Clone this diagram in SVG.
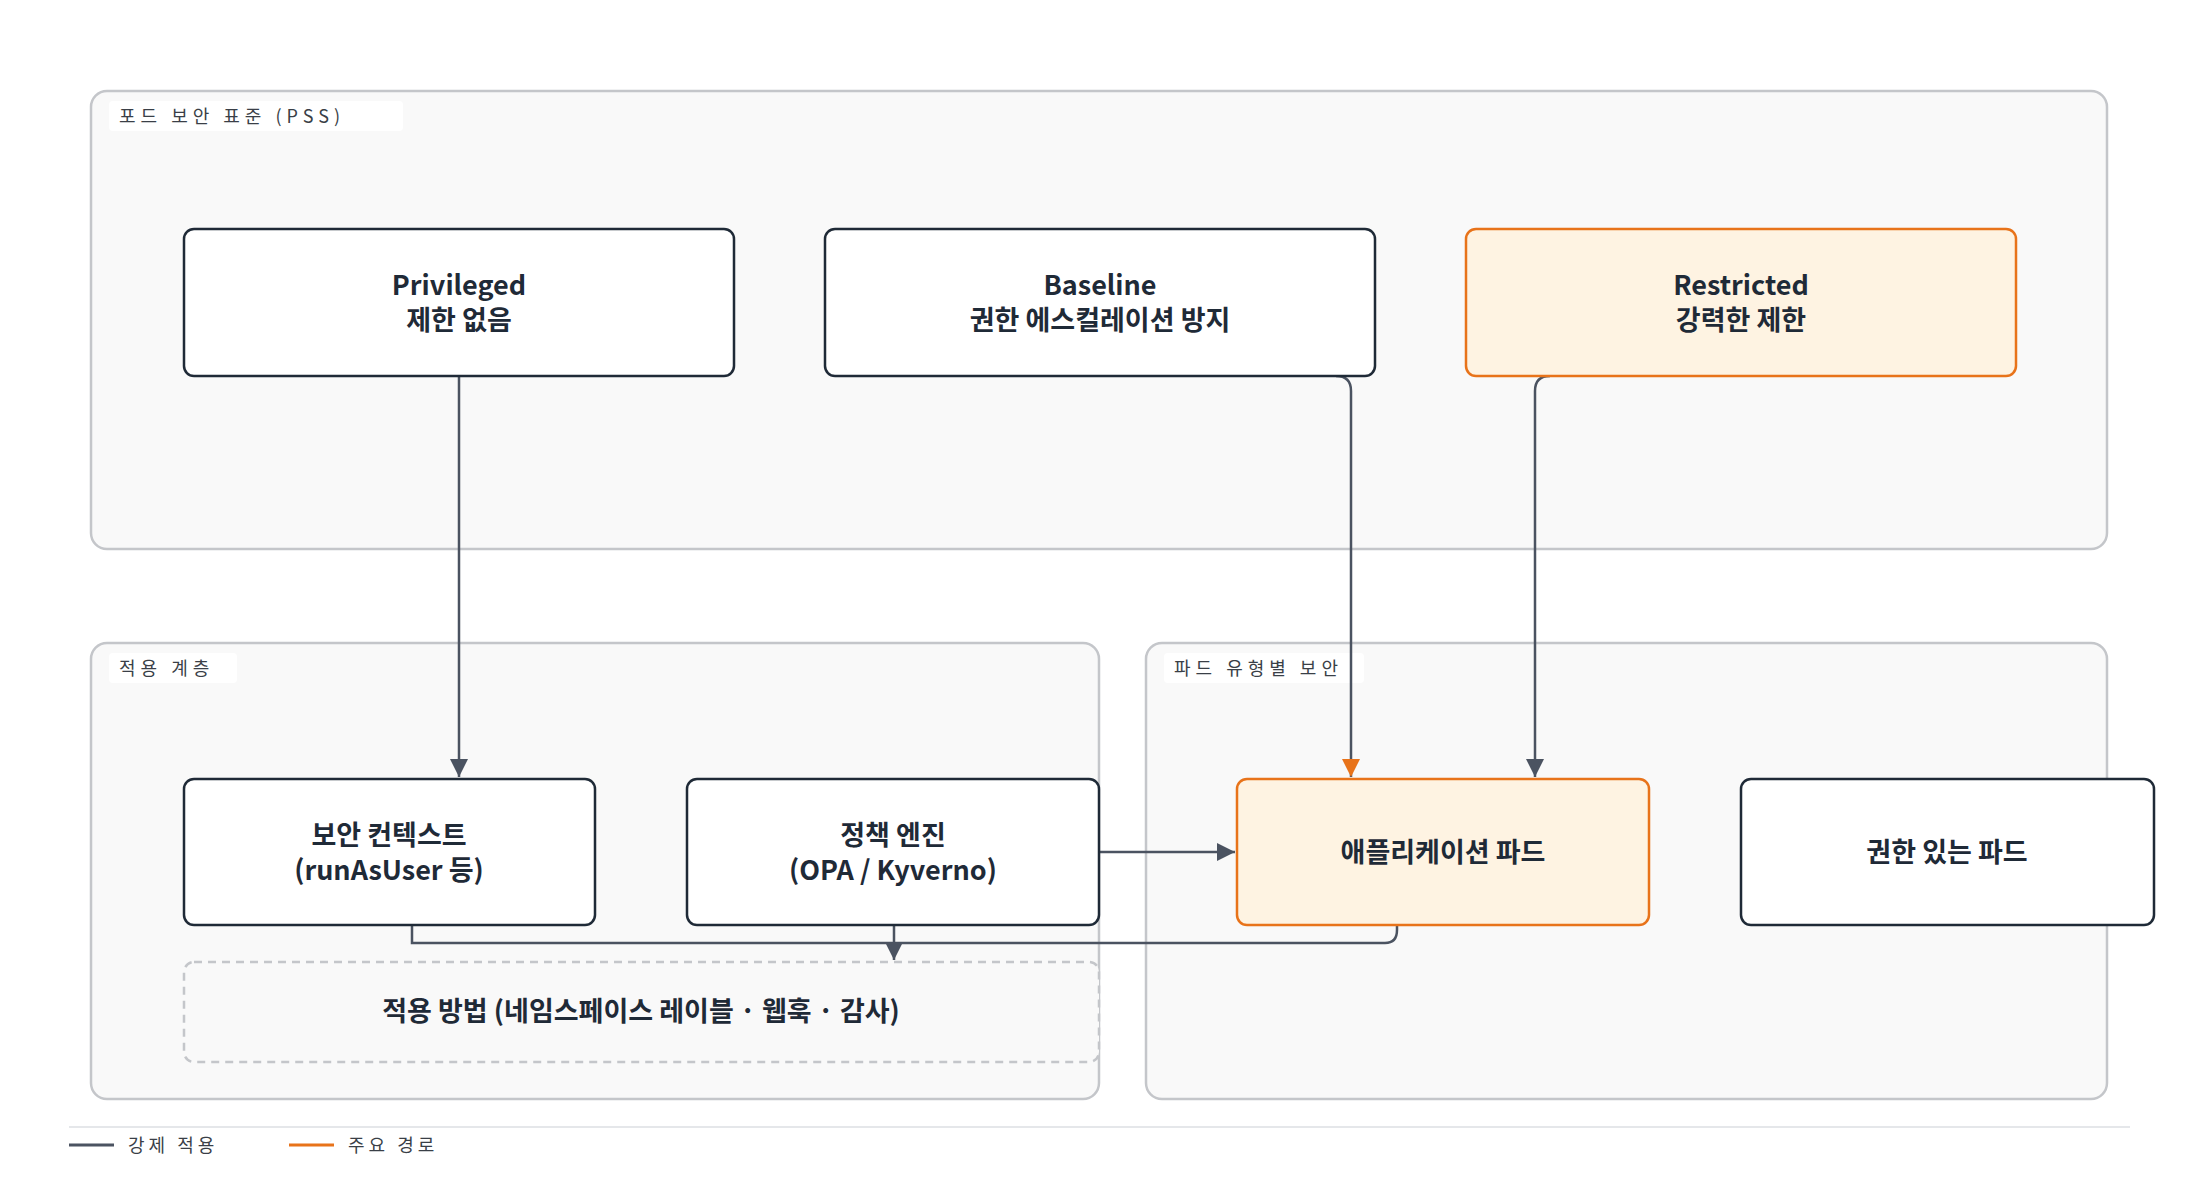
<svg xmlns="http://www.w3.org/2000/svg" width="2200" height="1194" viewBox="0 0 2200 1194">
<style>
.grp{fill:#f9f9f9;stroke:#c4c6ca;stroke-width:2.5}
.chip{fill:#ffffff}
.gl{font-family:"Noto Sans CJK KR","Noto Sans",sans-serif;font-size:18px;fill:#3a3f47;letter-spacing:5px}
.nd{fill:#ffffff;stroke:#1f2a37;stroke-width:2.5}
.hot{fill:#fef3e2;stroke:#e8731a;stroke-width:2.5}
.t{font-family:"Noto Sans CJK KR","Noto Sans",sans-serif;font-size:27px;font-weight:bold;fill:#1f2a37;text-anchor:middle}
.e{fill:none;stroke:#4b5361;stroke-width:2.5}
.lg{font-family:"Noto Sans CJK KR","Noto Sans",sans-serif;font-size:18px;fill:#3a3f47;letter-spacing:4px}
</style>
<defs>
<marker id="ao" viewBox="0 0 18 18" refX="18" refY="9" markerWidth="18" markerHeight="18" orient="auto" markerUnits="userSpaceOnUse"><path d="M0,0 L18,9 L0,18 z" fill="#e8731a"/></marker>
<marker id="a" viewBox="0 0 18 18" refX="18" refY="9" markerWidth="18" markerHeight="18" orient="auto" markerUnits="userSpaceOnUse"><path d="M0,0 L18,9 L0,18 z" fill="#4b5361"/></marker>
</defs>
<rect width="2200" height="1194" fill="#ffffff"/>
<g id="group-pss"><rect class="grp" x="91" y="91" width="2016" height="458" rx="16"/><rect class="chip" x="109" y="101" width="294" height="30" rx="4"/><text class="gl" x="119" y="123">포드 보안 표준 (PSS)</text></g>
<g id="group-apply"><rect class="grp" x="91" y="643" width="1008" height="456" rx="16"/><rect class="chip" x="109" y="653" width="128" height="30" rx="4"/><text class="gl" x="119" y="675">적용 계층</text></g>
<g id="group-pod"><rect class="grp" x="1146" y="643" width="961" height="456" rx="16"/><rect class="chip" x="1164" y="653" width="200" height="30" rx="4"/><text class="gl" x="1174" y="675">파드 유형별 보안</text></g>
<g id="connectors">
<path class="e" d="M459,376 V777" marker-end="url(#a)"/>
<path class="e" d="M1336,376 Q1351,376 1351,391 V777" marker-end="url(#ao)"/>
<path class="e" d="M1550,376 Q1535,376 1535,391 V777" marker-end="url(#a)"/>
<path class="e" d="M1099,852 H1235" marker-end="url(#a)"/>
<path class="e" d="M412,925 V943 H1385 Q1397,943 1397,930 V925"/>
<path class="e" d="M894,925 V960" marker-end="url(#a)"/>
</g>
<g id="n-privileged"><rect class="nd" x="184" y="229" width="550" height="147" rx="10"/><text class="t" x="459" y="295">Privileged</text><text class="t" x="459" y="330">제한 없음</text></g>
<g id="n-baseline"><rect class="nd" x="825" y="229" width="550" height="147" rx="10"/><text class="t" x="1100" y="295">Baseline</text><text class="t" x="1100" y="330">권한 에스컬레이션 방지</text></g>
<g id="n-restricted"><rect class="hot" x="1466" y="229" width="550" height="147" rx="10"/><text class="t" x="1741" y="295">Restricted</text><text class="t" x="1741" y="330">강력한 제한</text></g>
<g id="n-secctx"><rect class="nd" x="184" y="779" width="411" height="146" rx="10"/><text class="t" x="389" y="845">보안 컨텍스트</text><text class="t" x="389" y="880">(runAsUser 등)</text></g>
<g id="n-policy"><rect class="nd" x="687" y="779" width="412" height="146" rx="10"/><text class="t" x="893" y="845">정책 엔진</text><text class="t" x="893" y="880">(OPA / Kyverno)</text></g>
<g id="n-apppod"><rect class="hot" x="1237" y="779" width="412" height="146" rx="10"/><text class="t" x="1443" y="862">애플리케이션 파드</text></g>
<g id="n-privpod"><rect class="nd" x="1741" y="779" width="413" height="146" rx="10"/><text class="t" x="1947" y="862">권한 있는 파드</text></g>
<g id="n-methods"><rect x="184" y="962" width="915" height="100" rx="10" fill="#f9f9f9" stroke="#c4c6ca" stroke-width="2.5" stroke-dasharray="8 6"/><text class="t" x="641" y="1021">적용 방법 (네임스페이스 레이블 · 웹훅 · 감사)</text></g>
<g id="legend">
<line x1="69" y1="1127" x2="2130" y2="1127" stroke="#e5e7ea" stroke-width="2"/>
<line x1="69" y1="1145" x2="114" y2="1145" stroke="#4b5361" stroke-width="3"/><text class="lg" x="128" y="1152">강제 적용</text>
<line x1="289" y1="1145" x2="334" y2="1145" stroke="#e8731a" stroke-width="3"/><text class="lg" x="348" y="1152">주요 경로</text>
</g>
</svg>
